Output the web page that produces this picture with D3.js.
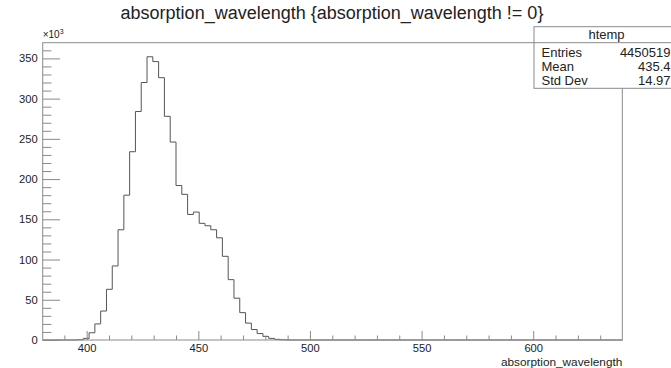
<!DOCTYPE html>
<html>
<head>
<meta charset="utf-8">
<script src="https://cdn.jsdelivr.net/npm/d3@7"></script>
<style>
  html, body { margin: 0; padding: 0; background: #fff; }
  svg { display: block; font-family: "Liberation Sans", Arial, Helvetica, sans-serif; }
</style>
</head>
<body>
<svg id="chart" width="671" height="368"></svg>
<script>
// ---------- data ----------
const title = "absorption_wavelength {absorption_wavelength != 0}";
const xTitle = "absorption_wavelength";
const histName = "htemp";
const xMin = 380.3;
const xMax = 639.9;
const yMax = 369.5;            // in units of 10^3
// bin contents (x10^3), 100 equal bins from xMin to xMax
const counts = [
  0, 0, 0, 0, 0, 0, 0.3, 2, 9, 20,
  36, 63, 92, 137, 180, 234, 284, 320, 352, 346,
  326, 278, 246, 192, 181, 156, 159, 145, 142, 137,
  127, 104, 75, 52, 34, 21, 13, 8, 4.5, 2,
  0.8, 0.3, 0, 0, 0, 0, 0, 0, 0, 0,
  0, 0, 0, 0, 0, 0, 0, 0, 0, 0,
  0, 0, 0, 0, 0, 0, 0, 0, 0, 0,
  0, 0, 0, 0, 0, 0, 0, 0, 0, 0,
  0, 0, 0, 0, 0, 0, 0, 0, 0, 0,
  0, 0, 0, 0, 0, 0, 0, 0, 0, 0
];
const xMajorTicks = [400, 450, 500, 550, 600];
const xMinorTicks = [390, 410, 420, 430, 440, 460, 470, 480, 490, 510, 520, 530, 540, 560, 570, 580, 590, 610, 620, 630];
const yMajorTicks = [0, 50, 100, 150, 200, 250, 300, 350];
const yMinorTicks = [10, 20, 30, 40, 60, 70, 80, 90, 110, 120, 130, 140, 160, 170, 180, 190, 210, 220, 230, 240, 260, 270, 280, 290, 310, 320, 330, 340, 360];
const statLabels = ["Entries", "Mean", "Std Dev"];
const statValues = ["4450519", "435.4", "14.97"];

// ---------- layout ----------
const frame = { left: 42.7, right: 622.3, top: 42.7, bottom: 340 };
const svg = d3.select("#chart");
const ink = "#222";
const axisCol = "#8a8a8a";

const x = d3.scaleLinear().domain([xMin, xMax]).range([frame.left, frame.right]);
const y = d3.scaleLinear().domain([0, yMax]).range([frame.bottom, frame.top]);

// histogram outline
const nb = counts.length;
const bw = (xMax - xMin) / nb;
const pts = [];
counts.forEach((c, i) => {
  pts.push([xMin + i * bw, c]);
  pts.push([xMin + (i + 1) * bw, c]);
});
const line = d3.line().x(d => x(d[0])).y(d => y(d[1]));
svg.append("path")
  .attr("d", line(pts))
  .attr("fill", "none")
  .attr("stroke", "#555")
  .attr("stroke-width", 1);

// frame
svg.append("rect")
  .attr("x", frame.left).attr("y", frame.top)
  .attr("width", frame.right - frame.left).attr("height", frame.bottom - frame.top)
  .attr("fill", "none").attr("stroke", axisCol).attr("stroke-width", 1);

// x axis
const gx = svg.append("g").attr("transform", `translate(0,${frame.bottom})`);
gx.call(d3.axisBottom(x).tickValues(xMajorTicks).tickSize(-9).tickPadding(4).tickFormat(d3.format("d")));
const gxm = svg.append("g").attr("transform", `translate(0,${frame.bottom})`);
gxm.call(d3.axisBottom(x).tickValues(xMinorTicks).tickSize(-4.5).tickFormat(""));

// y axis
const gy = svg.append("g").attr("transform", `translate(${frame.left},0)`);
gy.call(d3.axisLeft(y).tickValues(yMajorTicks).tickSize(-17.4).tickPadding(5).tickFormat(d3.format("d")));
const gym = svg.append("g").attr("transform", `translate(${frame.left},0)`);
gym.call(d3.axisLeft(y).tickValues(yMinorTicks).tickSize(-8.7).tickFormat(""));

[gx, gxm, gy, gym].forEach(g => {
  g.select(".domain").remove();
  g.selectAll(".tick line").attr("stroke", axisCol).attr("stroke-width", 1);
  g.selectAll(".tick text").attr("fill", ink).attr("font-size", 11.2)
    .attr("font-family", "'Liberation Sans', Arial, sans-serif");
});

// x10^3
const mult = svg.append("text").attr("x", frame.left).attr("y", 38)
  .attr("font-size", 10).attr("fill", ink);
mult.append("tspan").text("\u00d710");
mult.append("tspan").attr("font-size", 7).attr("dy", -4).text("3");

// title
svg.append("text").attr("x", 332).attr("y", 19).attr("text-anchor", "middle")
  .attr("font-size", 18).attr("fill", ink).text(title);

// x axis title
svg.append("text").attr("x", frame.right).attr("y", 365.5).attr("text-anchor", "end")
  .attr("font-size", 11.8).attr("fill", ink).text(xTitle);

// stats box
const sb = { left: 534, right: 671, top: 26.7, bottom: 88.3, header: 42.7 };
svg.append("rect").attr("x", sb.left).attr("y", sb.top)
  .attr("width", sb.right - sb.left + 2).attr("height", sb.bottom - sb.top)
  .attr("fill", "#fff").attr("stroke", axisCol).attr("stroke-width", 1);
svg.append("line").attr("x1", sb.left).attr("x2", sb.right + 2)
  .attr("y1", sb.header).attr("y2", sb.header).attr("stroke", axisCol);
svg.append("text").attr("x", (sb.left + sb.right) / 2 + 4).attr("y", 38.5)
  .attr("text-anchor", "middle").attr("font-size", 13).attr("fill", ink).text(histName);
statLabels.forEach((l, i) => {
  const by = 56.5 + i * 14;
  svg.append("text").attr("x", 541.5).attr("y", by).attr("font-size", 13).attr("fill", ink).text(l);
  svg.append("text").attr("x", 670.5).attr("y", by).attr("text-anchor", "end")
    .attr("font-size", 13).attr("fill", ink).text(statValues[i]);
});
</script>
</body>
</html>
